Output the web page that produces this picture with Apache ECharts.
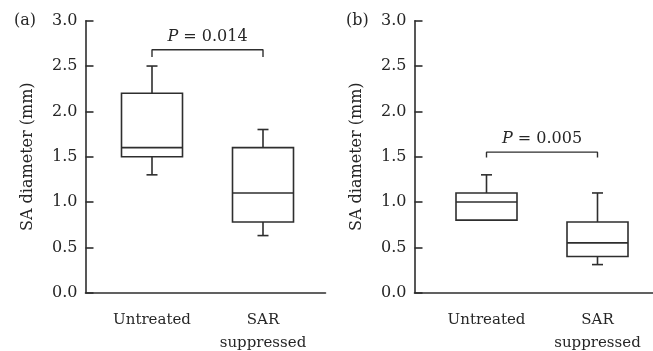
<!DOCTYPE html>
<html>
<head>
<meta charset="utf-8">
<script src="https://cdn.jsdelivr.net/npm/echarts@6/dist/echarts.min.js"></script>
<style>
  html, body { margin: 0; padding: 0; background: #fff; }
  #chart { width: 653px; height: 351px; }
</style>
</head>
<body>
<div id="chart"></div>
<script>
// categories and values
const groups = ['Untreated', 'SAR suppressed'];
const yTicks = [0, 0.5, 1.0, 1.5, 2.0, 2.5, 3.0];
const panelLabels = ['(a)', '(b)'];
// each box: [min, Q1, median, Q3, max]
const boxesA = [
  [1.30, 1.50, 1.60, 2.20, 2.50],
  [0.63, 0.78, 1.10, 1.60, 1.80]
];
const boxesB = [
  [0.80, 0.80, 1.00, 1.10, 1.30],
  [0.31, 0.40, 0.55, 0.78, 1.10]
];
// significance bracket: [end of the drops, top]
const bracketA = [2.60, 2.68];
const bracketB = [1.49, 1.55];
const pValues = ['0.014', '0.005'];

const FONT = 'DejaVu Serif';
const INK = '#262626';
const LINE = '#2e2e2e';
const BOX_HALF = 30.5;
const CAP_HALF = 5.5;

const chart = echarts.init(document.getElementById('chart'));

function renderBox(params, api) {
  const x = api.value(0);
  const lo = api.coord([x, api.value(1)]);
  const q1 = api.coord([x, api.value(2)]);
  const med = api.coord([x, api.value(3)]);
  const q3 = api.coord([x, api.value(4)]);
  const hi = api.coord([x, api.value(5)]);
  const cx = med[0];
  const stroke = { stroke: LINE, lineWidth: 1.6, fill: null };
  const kids = [
    { type: 'rect', shape: { x: cx - BOX_HALF, y: q3[1], width: BOX_HALF * 2, height: q1[1] - q3[1] },
      style: { fill: '#fff', stroke: LINE, lineWidth: 1.6 } },
    { type: 'line', shape: { x1: cx - BOX_HALF, y1: med[1], x2: cx + BOX_HALF, y2: med[1] }, style: stroke }
  ];
  if (hi[1] < q3[1]) {
    kids.push({ type: 'line', shape: { x1: cx, y1: q3[1], x2: cx, y2: hi[1] }, style: stroke });
    kids.push({ type: 'line', shape: { x1: cx - CAP_HALF, y1: hi[1], x2: cx + CAP_HALF, y2: hi[1] }, style: stroke });
  }
  if (lo[1] > q1[1]) {
    kids.push({ type: 'line', shape: { x1: cx, y1: q1[1], x2: cx, y2: lo[1] }, style: stroke });
    kids.push({ type: 'line', shape: { x1: cx - CAP_HALF, y1: lo[1], x2: cx + CAP_HALF, y2: lo[1] }, style: stroke });
  }
  return { type: 'group', children: kids };
}

// frame grids carry the axis lines, inner grids place the boxes
const frames = [{ left: 85.5, width: 240 }, { left: 414.5, width: 238.5 }];
const inner = [{ left: 96.5, width: 222 }, { left: 431, width: 222 }];
const TOP = 20.7, HEIGHT = 272;

const grids = [], xAxes = [], yAxes = [];
frames.concat(inner).forEach(f => grids.push({
  left: f.left, top: TOP, width: f.width, height: HEIGHT, outerBoundsMode: 'none'
}));

[0, 1].forEach(i => {
  xAxes.push({
    gridIndex: i, type: 'value', min: 0, max: 1,
    axisLine: { lineStyle: { color: LINE, width: 1.6 } },
    axisTick: { show: false }, axisLabel: { show: false }, splitLine: { show: false }
  });
  yAxes.push({
    gridIndex: i, type: 'value', min: yTicks[0], max: yTicks[yTicks.length - 1], interval: 0.5,
    name: 'SA diameter (mm)', nameLocation: 'middle', nameGap: 50,
    nameTextStyle: { fontFamily: FONT, fontSize: 16, color: INK },
    axisLine: { show: true, lineStyle: { color: LINE, width: 1.6 } },
    axisTick: { show: true, inside: true, length: 8, lineStyle: { color: LINE, width: 1.6 } },
    axisLabel: { margin: 8, fontFamily: FONT, fontSize: 16, color: INK, formatter: v => v.toFixed(1) },
    splitLine: { show: false }
  });
});
[2, 3].forEach(i => {
  xAxes.push({
    gridIndex: i, type: 'category', data: groups.map(g => g.replace(' ', '\n')),
    axisLine: { show: false }, axisTick: { show: false }, splitLine: { show: false },
    axisLabel: { margin: 16, fontFamily: FONT, fontSize: 15, color: INK, lineHeight: 23, interval: 0 }
  });
  yAxes.push({
    gridIndex: i, type: 'value', min: yTicks[0], max: yTicks[yTicks.length - 1],
    show: false
  });
});

const boxSets = [boxesA, boxesB];
const brackets = [bracketA, bracketB];
const series = [];
[0, 1].forEach(p => {
  series.push({
    type: 'custom', xAxisIndex: 2 + p, yAxisIndex: 2 + p,
    renderItem: renderBox, encode: { x: 0, y: [1, 2, 3, 4, 5] },
    data: boxSets[p].map((b, i) => [i].concat(b)), silent: true
  });
  const [drop, top] = brackets[p];
  series.push({
    type: 'line', xAxisIndex: 2 + p, yAxisIndex: 2 + p, symbol: 'none', silent: true,
    lineStyle: { color: LINE, width: 1.4 },
    data: [[0, drop], [0, top], [1, top], [1, drop]]
  });
});

chart.setOption({
  animation: false,
  title: panelLabels.map((t, i) => ({
    text: t, left: i === 0 ? 14 : 346, top: 13, padding: 0,
    textStyle: { fontFamily: FONT, fontSize: 16, fontWeight: 'normal', color: INK }
  })),
  grid: grids,
  xAxis: xAxes,
  yAxis: yAxes,
  series: series
});

// P value labels centred above each bracket
const texts = [0, 1].map(p => {
  const top = brackets[p][1];
  const a = chart.convertToPixel({ xAxisIndex: 2 + p, yAxisIndex: 2 + p }, [0, top]);
  const b = chart.convertToPixel({ xAxisIndex: 2 + p, yAxisIndex: 2 + p }, [1, top]);
  return {
    type: 'text', x: (a[0] + b[0]) / 2, y: a[1] - 13,
    style: {
      text: '{i|P} = ' + pValues[p],
      rich: { i: { fontStyle: 'italic', fontFamily: FONT, fontSize: 16, fill: INK } },
      font: '16px "' + FONT + '"', fill: INK, align: 'center', verticalAlign: 'middle'
    }
  };
});
chart.setOption({ graphic: texts });
</script>
</body>
</html>
